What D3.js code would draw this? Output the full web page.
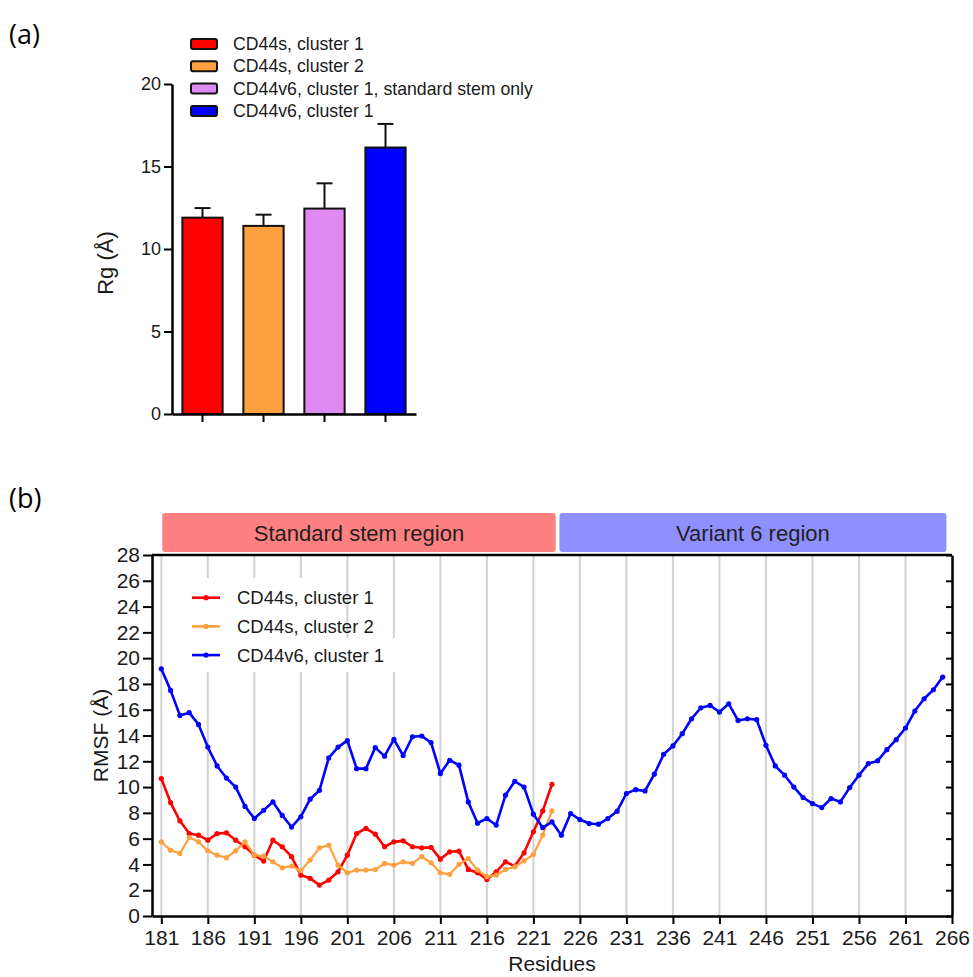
<!DOCTYPE html>
<html>
<head>
<meta charset="utf-8">
<script src="https://cdn.jsdelivr.net/npm/d3@7"></script>
<style>
  body { margin: 0; background: #fff; }
  svg { display: block; font-family: "Liberation Sans", Arial, sans-serif; }
  .panel-label { font-family: "Open Sans", sans-serif; font-size: 27px; }
</style>
</head>
<body>
<div id="chart"></div>
<script>
// ---- panel (a): radius of gyration ----
const barLabels = ["CD44s, cluster 1", "CD44s, cluster 2",
                   "CD44v6, cluster 1, standard stem only", "CD44v6, cluster 1"];
const barMeans = [11.9, 11.4, 12.45, 16.15];
const barErrors = [0.58, 0.68, 1.53, 1.43];
const barColors = ["#ff0000", "#ffa040", "#df8af3", "#0000ff"];
const rgTicks = [0, 5, 10, 15, 20];

// ---- panel (b): RMSF per residue ----
const firstResidue = 181;
const cd44sCluster1 = [10.66, 8.8, 7.38, 6.4, 6.27, 5.88, 6.4, 6.45, 5.88, 5.37,
  4.72, 4.26, 5.88, 5.37, 4.6, 3.17, 2.92, 2.4, 2.79, 3.43,
  4.72, 6.4, 6.79, 6.35, 5.37, 5.75, 5.83, 5.37, 5.29, 5.32,
  4.41, 4.98, 5.03, 3.61, 3.35, 2.84, 3.43, 4.2, 3.87, 4.9,
  6.53, 8.15, 10.22];
const cd44sCluster2 = [5.75, 5.1, 4.85, 6.09, 5.75, 5.06, 4.72, 4.52, 5.06, 5.75,
  4.72, 4.65, 4.2, 3.74, 3.87, 3.51, 4.34, 5.29, 5.5, 3.95,
  3.35, 3.56, 3.56, 3.6, 4.08, 3.95, 4.2, 4.08, 4.6, 4.13,
  3.35, 3.23, 4.0, 4.46, 3.56, 3.05, 3.17, 3.61, 3.82, 4.28,
  4.77, 6.27, 8.15];
const cd44v6Cluster1 = [19.17, 17.5, 15.56, 15.77, 14.86, 13.1, 11.64, 10.7, 10.0, 8.5,
  7.56, 8.2, 8.85, 7.8, 6.9, 7.7, 9.06, 9.75, 12.26, 13.1,
  13.6, 11.43, 11.43, 13.06, 12.4, 13.7, 12.45, 13.9, 13.96, 13.45,
  11.05, 12.08, 11.7, 8.85, 7.2, 7.56, 7.05, 9.37, 10.45, 10.0,
  7.9, 6.86, 7.3, 6.27, 7.95, 7.48, 7.17, 7.12, 7.56, 8.13,
  9.5, 9.8, 9.7, 11.0, 12.54, 13.19, 14.14, 15.3, 16.15, 16.33,
  15.82, 16.46, 15.17, 15.3, 15.23, 13.24, 11.64, 10.92, 10.0, 9.19,
  8.72, 8.41, 9.11, 8.85, 9.96, 10.92, 11.82, 12.03, 12.9, 13.68,
  14.58, 15.9, 16.85, 17.55, 18.53];
const seriesNames = ["CD44s, cluster 1", "CD44s, cluster 2", "CD44v6, cluster 1"];
const seriesColors = ["#ff0000", "#ffa040", "#0000ff"];
const residueTicks = [181, 186, 191, 196, 201, 206, 211, 216, 221, 226, 231, 236, 241, 246, 251, 256, 261, 266];
const rmsfTicks = [0, 2, 4, 6, 8, 10, 12, 14, 16, 18, 20, 22, 24, 26, 28];
const regionNames = ["Standard stem region", "Variant 6 region"];
const regionFrom = [181.1, 223.8];
const regionTo = [223.4, 265.4];
const regionColors = ["#ff8080", "#8f8fff"];

const W = 973, H = 977;
const svg = d3.select("#chart").append("svg").attr("width", W).attr("height", H);
svg.append("rect").attr("width", W).attr("height", H).attr("fill", "#fff");

function styleAxis(g, size){
    g.selectAll("path").attr("stroke", "#000").attr("stroke-width", 2.5);
    g.selectAll("line").attr("stroke", "#000").attr("stroke-width", 2);
    g.selectAll("text").attr("fill", "#1a1a1a").style("font-size", size + "px")
        .style("font-family", "'Liberation Sans', Arial, sans-serif");
}

// ================= panel (a) =================
svg.append("text").attr("class", "panel-label").attr("x", 9).attr("y", 44).text("(a)");

const ax = d3.scaleBand().domain(barLabels).range([172, 416])
    .paddingInner(0.34).paddingOuter(0.17);
const ay = d3.scaleLinear().domain([0, 20]).range([414, 84]);

const ga = svg.append("g");

ga.selectAll(".bar").data(barMeans).enter().append("rect")
    .attr("class", "bar")
    .attr("x", (d, i) => ax(barLabels[i]))
    .attr("y", d => ay(d))
    .attr("width", ax.bandwidth())
    .attr("height", d => ay(0) - ay(d))
    .attr("fill", (d, i) => barColors[i])
    .attr("stroke", "#111").attr("stroke-width", 2);

// upper error bars only
const capW = 16;
barMeans.forEach((m, i) => {
    const cx = ax(barLabels[i]) + ax.bandwidth() / 2;
    ga.append("line").attr("x1", cx).attr("x2", cx)
        .attr("y1", ay(m)).attr("y2", ay(m + barErrors[i]))
        .attr("stroke", "#111").attr("stroke-width", 2);
    ga.append("line").attr("x1", cx - capW / 2).attr("x2", cx + capW / 2)
        .attr("y1", ay(m + barErrors[i])).attr("y2", ay(m + barErrors[i]))
        .attr("stroke", "#111").attr("stroke-width", 2);
});

const ayAxis = ga.append("g").attr("transform", "translate(172,0)")
    .call(d3.axisLeft(ay).tickValues(rgTicks).tickSize(8).tickSizeOuter(0).tickPadding(3));
styleAxis(ayAxis, 18);

const axAxis = ga.append("g").attr("transform", `translate(0,${ay(0)})`)
    .call(d3.axisBottom(ax).tickSize(8).tickSizeOuter(0).tickFormat(""));
styleAxis(axAxis, 18);

ga.append("text")
    .attr("transform", "translate(113,263) rotate(-90)")
    .attr("text-anchor", "middle").attr("fill", "#1a1a1a")
    .style("font-size", "22px").text("Rg (Å)");

// legend (a)
const legA = ga.append("g");
barLabels.forEach((lab, i) => {
    const yy = 44 + i * 22.3;
    legA.append("rect").attr("x", 191).attr("y", yy - 5).attr("width", 26).attr("height", 10)
        .attr("rx", 2).attr("fill", barColors[i]).attr("stroke", "#111").attr("stroke-width", 2);
    legA.append("text").attr("x", 233).attr("y", yy + 6).attr("fill", "#1a1a1a")
        .style("font-size", "17.7px").text(lab);
});

// ================= panel (b) =================
svg.append("text").attr("class", "panel-label").attr("x", 9).attr("y", 508).text("(b)");

const bx = d3.scaleLinear().domain([180, 266]).range([152, 952]);
const by = d3.scaleLinear().domain([0, 28]).range([916, 555]);

const gb = svg.append("g");

// region header boxes
regionNames.forEach((name, i) => {
    gb.append("rect").attr("x", bx(regionFrom[i])).attr("y", 513)
        .attr("width", bx(regionTo[i]) - bx(regionFrom[i])).attr("height", 39)
        .attr("rx", 3).attr("fill", regionColors[i]);
    gb.append("text").attr("x", (bx(regionFrom[i]) + bx(regionTo[i])) / 2).attr("y", 540.5)
        .attr("text-anchor", "middle").attr("fill", "#1f1f1f")
        .style("font-size", "22px").text(name);
});

// vertical grid
gb.append("g").selectAll("line").data(residueTicks.slice(0, -1)).enter().append("line")
    .attr("x1", d => bx(d)).attr("x2", d => bx(d))
    .attr("y1", by(28)).attr("y2", by(0))
    .attr("stroke", "#d2d2d2").attr("stroke-width", 2);

// legend backing (hides grid behind the legend)
gb.append("rect").attr("x", 178).attr("y", 578).attr("width", 157).attr("height", 60).attr("fill", "#fff");
gb.append("rect").attr("x", 178).attr("y", 638).attr("width", 224).attr("height", 34).attr("fill", "#fff");

// frame: top line and right axis with inward ticks
gb.append("line").attr("x1", bx(180)).attr("x2", bx(266)).attr("y1", by(28)).attr("y2", by(28))
    .attr("stroke", "#000").attr("stroke-width", 2.5);
const rightAxis = gb.append("g").attr("transform", `translate(${bx(266)},0)`)
    .call(d3.axisLeft(by).tickValues(rmsfTicks).tickSize(-6).tickSizeOuter(0).tickFormat(""));
styleAxis(rightAxis, 21);
rightAxis.selectAll(".tick line").attr("x2", -6);

const byAxis = gb.append("g").attr("transform", `translate(${bx(180)},0)`)
    .call(d3.axisLeft(by).tickValues(rmsfTicks).tickSize(9).tickSizeOuter(0).tickPadding(3));
styleAxis(byAxis, 21);

const bxAxis = gb.append("g").attr("transform", `translate(0,${by(0)})`)
    .call(d3.axisBottom(bx).tickValues(residueTicks).tickSize(8).tickSizeOuter(0).tickPadding(6));
styleAxis(bxAxis, 21);

gb.append("text").attr("x", (bx(180) + bx(266)) / 2).attr("y", 971)
    .attr("text-anchor", "middle").attr("fill", "#1a1a1a")
    .style("font-size", "21px").text("Residues");

gb.append("text")
    .attr("transform", `translate(108,${(by(0) + by(28)) / 2}) rotate(-90)`)
    .attr("text-anchor", "middle").attr("fill", "#1a1a1a")
    .style("font-size", "21px").text("RMSF (Å)");

// series lines
const allSeries = [cd44sCluster1, cd44sCluster2, cd44v6Cluster1];
const line = d3.line().x((d, i) => bx(firstResidue + i)).y(d => by(d));

allSeries.forEach((vals, s) => {
    const g = gb.append("g");
    g.append("path").datum(vals).attr("d", line)
        .attr("fill", "none").attr("stroke", seriesColors[s])
        .attr("stroke-width", s === 1 ? 2.2 : 2.6).attr("stroke-linejoin", "round");
    g.selectAll("circle").data(vals).enter().append("circle")
        .attr("cx", (d, i) => bx(firstResidue + i)).attr("cy", d => by(d))
        .attr("r", 2.6).attr("fill", seriesColors[s]);
});

// legend (b)
seriesNames.forEach((name, i) => {
    const yy = 597.7 + i * 28.7;
    gb.append("line").attr("x1", 192).attr("x2", 220).attr("y1", yy).attr("y2", yy)
        .attr("stroke", seriesColors[i]).attr("stroke-width", 2.6);
    gb.append("circle").attr("cx", 206).attr("cy", yy).attr("r", 2.6).attr("fill", seriesColors[i]);
    gb.append("text").attr("x", 237).attr("y", yy + 6.5).attr("fill", "#1a1a1a")
        .style("font-size", "18.5px").text(name);
});
</script>
</body>
</html>
